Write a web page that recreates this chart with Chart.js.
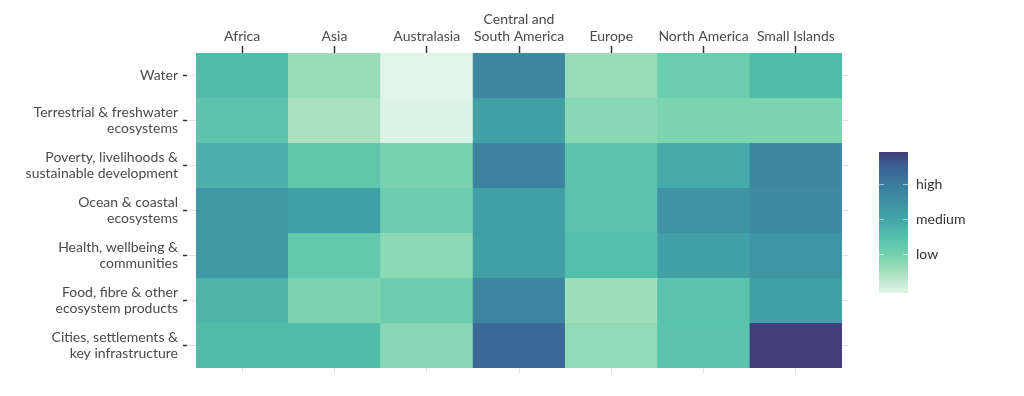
<!DOCTYPE html>
<html>
<head>
<meta charset="utf-8">
<script src="https://cdn.jsdelivr.net/npm/chart.js@4"></script>
<style>
  html, body { margin: 0; padding: 0; background: #fff; }
  #wrap { width: 1024px; height: 396px; }
</style>
</head>
<body>
<div id="wrap"><canvas id="heat" width="1024" height="396"></canvas></div>
<script>
// ---- data ----
const regions = ['Africa', 'Asia', 'Australasia', ['Central and', 'South America'], 'Europe', 'North America', 'Small Islands'];
const sectors = [
  'Water',
  ['Terrestrial & freshwater', 'ecosystems'],
  ['Poverty, livelihoods &', 'sustainable development'],
  ['Ocean & coastal', 'ecosystems'],
  ['Health, wellbeing &', 'communities'],
  ['Food, fibre & other', 'ecosystem products'],
  ['Cities, settlements &', 'key infrastructure'],
];
// one row per sector, one value per region (0 = lowest, 100 = highest)
const water       = [42, 18, 0, 70, 18, 30, 42];
const terrestrial = [37, 14, 1, 55, 22, 25, 25];
const poverty     = [47, 35, 26, 73, 37, 50, 70];
const ocean       = [60, 56, 30, 56, 38, 63, 69];
const health      = [60, 33, 21, 56, 40, 55, 62];
const food        = [45, 25, 30, 72, 17, 38, 55];
const cities      = [42, 42, 22, 86, 20, 38, 100];
const scores = [water, terrestrial, poverty, ocean, health, food, cities];

const legendLabels = ['low', 'medium', 'high'];
const legendValues = [27.5, 52.5, 77.5];

// ---- colour scale ----
const STOPS = [
  [0.00, '#e0f5e8'],
  [0.15, '#a6e0bd'],
  [0.28, '#6fd0ae'],
  [0.40, '#55c0ac'],
  [0.52, '#43a6a8'],
  [0.65, '#3e90a2'],
  [0.78, '#3b7b9e'],
  [0.88, '#3a6596'],
  [1.00, '#433e7a'],
];

function hex2rgb(h) {
  const n = parseInt(h.slice(1), 16);
  return [(n >> 16) & 255, (n >> 8) & 255, n & 255];
}

function scoreColor(v) {
  const t = Math.max(0, Math.min(1, v / 100));
  for (let i = 1; i < STOPS.length; i++) {
    if (t <= STOPS[i][0]) {
      const [t0, c0] = STOPS[i - 1];
      const [t1, c1] = STOPS[i];
      const f = (t - t0) / (t1 - t0);
      const a = hex2rgb(c0), b = hex2rgb(c1);
      const rgb = a.map((x, k) => Math.round(x + (b[k] - x) * f));
      return `rgb(${rgb[0]},${rgb[1]},${rgb[2]})`;
    }
  }
  return STOPS[STOPS.length - 1][1];
}

// ---- colour bar legend ----
const BAR = { left: 879, right: 908, top: 152, bottom: 293 };

const colorBar = {
  id: 'colorBar',
  afterDraw(chart) {
    const ctx = chart.ctx;
    const g = ctx.createLinearGradient(0, BAR.bottom, 0, BAR.top);
    STOPS.forEach(([t, c]) => g.addColorStop(t, c));
    ctx.save();
    ctx.fillStyle = g;
    ctx.fillRect(BAR.left, BAR.top, BAR.right - BAR.left, BAR.bottom - BAR.top);
    ctx.strokeStyle = 'rgba(255,255,255,0.55)';
    ctx.lineWidth = 1;
    ctx.font = "14px Lato, 'Open Sans', sans-serif";
    ctx.fillStyle = '#333';
    ctx.textBaseline = 'middle';
    legendValues.forEach((v, i) => {
      const y = Math.round(BAR.bottom - (v / 100) * (BAR.bottom - BAR.top)) + 0.5;
      ctx.beginPath();
      ctx.moveTo(BAR.left, y); ctx.lineTo(BAR.left + 5, y);
      ctx.moveTo(BAR.right - 5, y); ctx.lineTo(BAR.right, y);
      ctx.stroke();
      ctx.fillText(legendLabels[i], 916, y);
    });
    ctx.restore();
  }
};

// ---- chart ----
Chart.defaults.font.family = "Lato, 'Open Sans', sans-serif";
Chart.defaults.font.size = 14;
Chart.defaults.color = '#4a4a4a';

const rowCenters = sectors.map((_, i) => i + 0.5);
const setRowTicks = scale => { scale.ticks = rowCenters.map(v => ({ value: v })); };

const datasets = scores.map((row, r) => ({
  label: Array.isArray(sectors[r]) ? sectors[r].join(' ') : sectors[r],
  data: row.map(() => [r, r + 1]),
  backgroundColor: row.map(scoreColor),
  borderColor: row.map(scoreColor),
  borderWidth: 0.6,
  borderSkipped: false,
  barPercentage: 1,
  categoryPercentage: 1,
  grouped: false,
}));

new Chart(document.getElementById('heat'), {
  type: 'bar',
  data: { labels: regions, datasets },
  options: {
    responsive: false,
    animation: false,
    events: [],
    layout: { padding: 0 },
    plugins: { legend: { display: false }, tooltip: { enabled: false } },
    scales: {
      x: {
        position: 'top',
        offset: true,
        grid: { offset: false, drawOnChartArea: false, tickLength: 7, tickColor: '#333', tickWidth: 1.5 },
        border: { display: false },
        ticks: { padding: 1, maxRotation: 0, autoSkip: false, lineHeight: 1.15 },
        afterFit(s) { s.height = 53; },
      },
      xb: {
        type: 'category',
        labels: regions,
        position: 'bottom',
        offset: true,
        grid: { offset: false, drawOnChartArea: false, tickLength: 5, tickColor: '#e2e2e2' },
        border: { display: false },
        ticks: { display: false },
        afterFit(s) { s.height = 28; },
      },
      y: {
        position: 'left',
        reverse: true,
        min: 0,
        max: sectors.length,
        weight: 0,
        afterBuildTicks: setRowTicks,
        grid: { drawOnChartArea: false, tickLength: 9, tickColor: '#e2e2e2' },
        border: { display: false },
        ticks: { display: false },
        afterFit(s) { s.width = 9; },
      },
      yl: {
        position: 'left',
        reverse: true,
        min: 0,
        max: sectors.length,
        weight: 1,
        afterBuildTicks: setRowTicks,
        grid: { drawOnChartArea: false, tickLength: 4, tickColor: '#333', tickWidth: 1.5 },
        border: { display: false },
        ticks: {
          padding: 5,
          lineHeight: 1.15,
          callback: (v) => sectors[Math.floor(v)],
        },
        afterFit(s) { s.width = 187; },
      },
      yr: {
        position: 'right',
        reverse: true,
        min: 0,
        max: sectors.length,
        afterBuildTicks: setRowTicks,
        grid: { drawOnChartArea: false, tickLength: 6, tickColor: '#e2e2e2' },
        border: { display: false },
        ticks: { display: false },
        afterFit(s) { s.width = 182; },
      },
    },
  },
  plugins: [colorBar],
});
</script>
</body>
</html>
